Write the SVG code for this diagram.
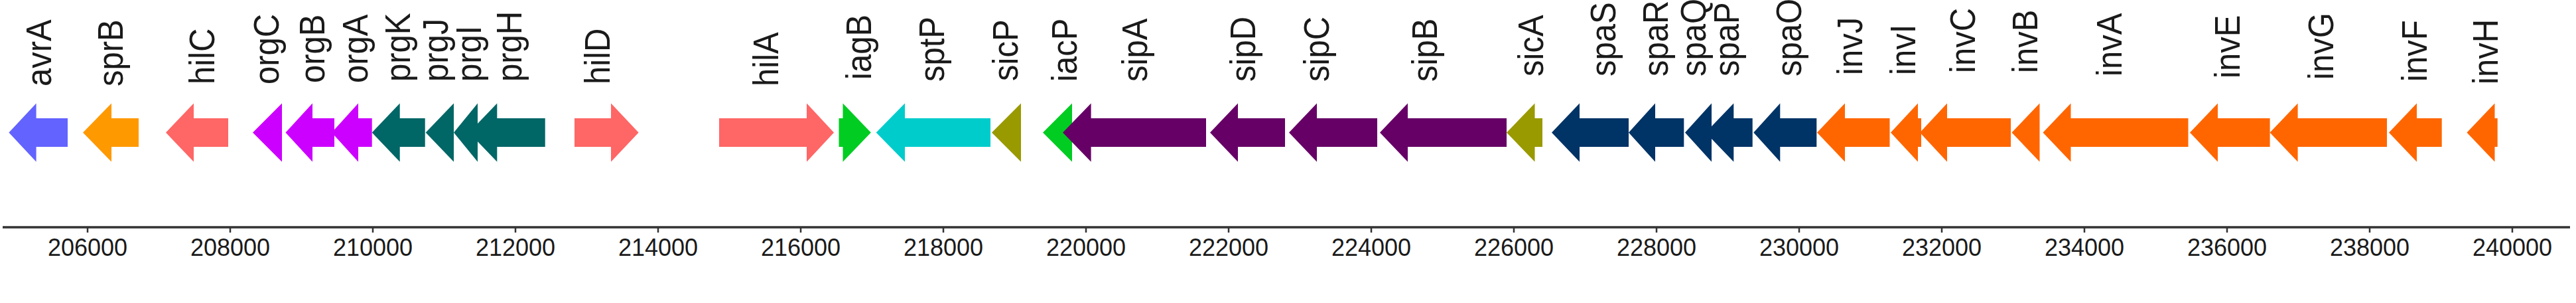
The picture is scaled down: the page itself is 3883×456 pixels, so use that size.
<svg xmlns="http://www.w3.org/2000/svg" width="3883" height="456" viewBox="0 0 3883 456">
<style>
.lbl{font-family:"Liberation Sans",Arial,sans-serif;font-size:49px;fill:#1a1a1a;dominant-baseline:central}
.tl{font-family:"Liberation Sans",Arial,sans-serif;font-size:36px;fill:#1a1a1a;text-anchor:middle}
.ax{stroke:#333;stroke-width:3.5;fill:none}
.tk{stroke:#333;stroke-width:2.5}
.c1{fill:#6363FF}.c2{fill:#FF9900}.c3{fill:#FF6666}.c4{fill:#CC00FF}.c5{fill:#006666}
.c6{fill:#00CC22}.c7{fill:#00CCCC}.c8{fill:#999900}.c9{fill:#660066}.c10{fill:#003366}.c11{fill:#FF6600}
</style>
<rect width="3883" height="456" fill="#fff"/>
<g id="axis">
<line class="ax" x1="4" y1="342" x2="3874" y2="342"/>
<g class="tk">
<line x1="132" y1="342" x2="132" y2="350"/><line x1="347" y1="342" x2="347" y2="350"/><line x1="562" y1="342" x2="562" y2="350"/><line x1="777" y1="342" x2="777" y2="350"/><line x1="992" y1="342" x2="992" y2="350"/><line x1="1207" y1="342" x2="1207" y2="350"/><line x1="1422" y1="342" x2="1422" y2="350"/><line x1="1637" y1="342" x2="1637" y2="350"/><line x1="1852" y1="342" x2="1852" y2="350"/><line x1="2067" y1="342" x2="2067" y2="350"/><line x1="2282" y1="342" x2="2282" y2="350"/><line x1="2497" y1="342" x2="2497" y2="350"/><line x1="2712" y1="342" x2="2712" y2="350"/><line x1="2927" y1="342" x2="2927" y2="350"/><line x1="3142" y1="342" x2="3142" y2="350"/><line x1="3357" y1="342" x2="3357" y2="350"/><line x1="3572" y1="342" x2="3572" y2="350"/><line x1="3787" y1="342" x2="3787" y2="350"/>
</g>
<g class="tl">
<text x="132" y="385">206000</text><text x="347" y="385">208000</text><text x="562" y="385">210000</text><text x="777" y="385">212000</text><text x="992" y="385">214000</text><text x="1207" y="385">216000</text><text x="1422" y="385">218000</text><text x="1637" y="385">220000</text><text x="1852" y="385">222000</text><text x="2067" y="385">224000</text><text x="2282" y="385">226000</text><text x="2497" y="385">228000</text><text x="2712" y="385">230000</text><text x="2927" y="385">232000</text><text x="3142" y="385">234000</text><text x="3357" y="385">236000</text><text x="3572" y="385">238000</text><text x="3787" y="385">240000</text>
</g>
</g>
<g id="genes">
<g id="avrA"><polygon class="c1" points="13.4,199.5 54.6,155.5 54.6,178 102,178 102,221 54.6,221 54.6,243.5"/><text class="lbl" transform="translate(59,130) rotate(-90) scale(1,1.09)">avrA</text></g>
<g id="sprB"><polygon class="c2" points="125,199.5 168,155.5 168,178 209,178 209,221 168,221 168,243.5"/><text class="lbl" transform="translate(167,130) rotate(-90) scale(1,1.09)">sprB</text></g>
<g id="hilC"><polygon class="c3" points="250,199.5 292,155.5 292,178 344,178 344,221 292,221 292,243.5"/><text class="lbl" transform="translate(305,127) rotate(-90) scale(1,1.09)">hilC</text></g>
<g id="orgC"><polygon class="c4" points="381,199.5 425,155.5 425,243.5"/><text class="lbl" transform="translate(402,127) rotate(-90) scale(1,1.09)">orgC</text></g>
<g id="orgA"><polygon class="c4" points="500,199.5 540,155.5 540,178 560.7,178 560.7,221 540,221 540,243.5"/><text class="lbl" transform="translate(536,125) rotate(-90) scale(1,1.09)">orgA</text></g>
<g id="orgB"><polygon class="c4" points="430.5,199.5 471,155.5 471,178 504,178 504,221 471,221 471,243.5"/><text class="lbl" transform="translate(471,125) rotate(-90) scale(1,1.09)">orgB</text></g>
<g id="prgK"><polygon class="c5" points="560.7,199.5 602.7,155.5 602.7,178 640.7,178 640.7,221 602.7,221 602.7,243.5"/><text class="lbl" transform="translate(600,123) rotate(-90) scale(1,1.09)">prgK</text></g>
<g id="prgH"><polygon class="c5" points="707,199.5 749.3,155.5 749.3,178 821.7,178 821.7,221 749.3,221 749.3,243.5"/><text class="lbl" transform="translate(768,123) rotate(-90) scale(1,1.09)">prgH</text></g>
<g id="prgI"><polygon class="c5" points="684,199.5 720,155.5 720,243.5"/><text class="lbl" transform="translate(707,123) rotate(-90) scale(1,1.09)">prgI</text></g>
<g id="prgJ"><polygon class="c5" points="641.7,199.5 684,155.5 684,243.5"/><text class="lbl" transform="translate(657,123) rotate(-90) scale(1,1.09)">prgJ</text></g>
<g id="hilD"><polygon class="c3" points="866,178 921,178 921,155.5 962.6,199.5 921,243.5 921,221 866,221"/><text class="lbl" transform="translate(901,127) rotate(-90) scale(1,1.09)">hilD</text></g>
<g id="hilA"><polygon class="c3" points="1084,178 1216,178 1216,155.5 1257,199.5 1216,243.5 1216,221 1084,221"/><text class="lbl" transform="translate(1155,130) rotate(-90) scale(1,1.09)">hilA</text></g>
<g id="iagB"><polygon class="c6" points="1264.5,178 1270.5,178 1270.5,155.5 1312.8,199.5 1270.5,243.5 1270.5,221 1264.5,221"/><text class="lbl" transform="translate(1295,120) rotate(-90) scale(1,1.09)">iagB</text></g>
<g id="sptP"><polygon class="c7" points="1320.7,199.5 1364,155.5 1364,178 1493,178 1493,221 1364,221 1364,243.5"/><text class="lbl" transform="translate(1405,123) rotate(-90) scale(1,1.09)">sptP</text></g>
<g id="sicP"><polygon class="c8" points="1495,199.5 1539,155.5 1539,243.5"/><text class="lbl" transform="translate(1516,122) rotate(-90) scale(1,1.09)">sicP</text></g>
<g id="iacP"><polygon class="c6" points="1572,199.5 1616,155.5 1616,243.5"/><text class="lbl" transform="translate(1605,123) rotate(-90) scale(1,1.09)">iacP</text></g>
<g id="sipA"><polygon class="c9" points="1602,199.5 1644.6,155.5 1644.6,178 1818,178 1818,221 1644.6,221 1644.6,243.5"/><text class="lbl" transform="translate(1711,123) rotate(-90) scale(1,1.09)">sipA</text></g>
<g id="sipD"><polygon class="c9" points="1824,199.5 1866,155.5 1866,178 1937,178 1937,221 1866,221 1866,243.5"/><text class="lbl" transform="translate(1874,123) rotate(-90) scale(1,1.09)">sipD</text></g>
<g id="sipC"><polygon class="c9" points="1943,199.5 1985,155.5 1985,178 2076,178 2076,221 1985,221 1985,243.5"/><text class="lbl" transform="translate(1985,123) rotate(-90) scale(1,1.09)">sipC</text></g>
<g id="sipB"><polygon class="c9" points="2080,199.5 2122,155.5 2122,178 2271,178 2271,221 2122,221 2122,243.5"/><text class="lbl" transform="translate(2148,123) rotate(-90) scale(1,1.09)">sipB</text></g>
<g id="sicA"><polygon class="c8" points="2271,199.5 2313.5,155.5 2313.5,178 2325,178 2325,221 2313.5,221 2313.5,243.5"/><text class="lbl" transform="translate(2308,115) rotate(-90) scale(1,1.09)">sicA</text></g>
<g id="spaS"><polygon class="c10" points="2339,199.5 2381,155.5 2381,178 2455,178 2455,221 2381,221 2381,243.5"/><text class="lbl" transform="translate(2417,115) rotate(-90) scale(1,1.09)">spaS</text></g>
<g id="spaR"><polygon class="c10" points="2455,199.5 2495,155.5 2495,178 2538.3,178 2538.3,221 2495,221 2495,243.5"/><text class="lbl" transform="translate(2496,115) rotate(-90) scale(1,1.09)">spaR</text></g>
<g id="spaP"><polygon class="c10" points="2571,199.5 2613.3,155.5 2613.3,178 2641.7,178 2641.7,221 2613.3,221 2613.3,243.5"/><text class="lbl" transform="translate(2603,115) rotate(-90) scale(1,1.09)">spaP</text></g>
<g id="spaQ"><polygon class="c10" points="2540,199.5 2580,155.5 2580,243.5"/><text class="lbl" transform="translate(2553,115) rotate(-90) scale(1,1.09)">spaQ</text></g>
<g id="spaO"><polygon class="c10" points="2643.3,199.5 2683.3,155.5 2683.3,178 2738.3,178 2738.3,221 2683.3,221 2683.3,243.5"/><text class="lbl" transform="translate(2697,115) rotate(-90) scale(1,1.09)">spaO</text></g>
<g id="invJ"><polygon class="c11" points="2739,199.5 2781,155.5 2781,178 2848.5,178 2848.5,221 2781,221 2781,243.5"/><text class="lbl" transform="translate(2789,113) rotate(-90) scale(1,1.09)">invJ</text></g>
<g id="invC"><polygon class="c11" points="2894,199.5 2935,155.5 2935,178 3031,178 3031,221 2935,221 2935,243.5"/><text class="lbl" transform="translate(2959,110) rotate(-90) scale(1,1.09)">invC</text></g>
<g id="invI"><polygon class="c11" points="2850,199.5 2891,155.5 2891,178 2896,178 2896,221 2891,221 2891,243.5"/><text class="lbl" transform="translate(2869,113) rotate(-90) scale(1,1.09)">invI</text></g>
<g id="invB"><polygon class="c11" points="3032.5,199.5 3074.5,155.5 3074.5,243.5"/><text class="lbl" transform="translate(3053,110) rotate(-90) scale(1,1.09)">invB</text></g>
<g id="invA"><polygon class="c11" points="3079.5,199.5 3121.5,155.5 3121.5,178 3298.5,178 3298.5,221 3121.5,221 3121.5,243.5"/><text class="lbl" transform="translate(3180,115) rotate(-90) scale(1,1.09)">invA</text></g>
<g id="invE"><polygon class="c11" points="3301,199.5 3343,155.5 3343,178 3421.6,178 3421.6,221 3343,221 3343,243.5"/><text class="lbl" transform="translate(3358,118) rotate(-90) scale(1,1.09)">invE</text></g>
<g id="invG"><polygon class="c11" points="3421.6,199.5 3463.6,155.5 3463.6,178 3598,178 3598,221 3463.6,221 3463.6,243.5"/><text class="lbl" transform="translate(3499,120) rotate(-90) scale(1,1.09)">invG</text></g>
<g id="invF"><polygon class="c11" points="3601,199.5 3643,155.5 3643,178 3680.7,178 3680.7,221 3643,221 3643,243.5"/><text class="lbl" transform="translate(3640,123) rotate(-90) scale(1,1.09)">invF</text></g>
<g id="invH"><polygon class="c11" points="3718.5,199.5 3760.5,155.5 3760.5,178 3764.7,178 3764.7,221 3760.5,221 3760.5,243.5"/><text class="lbl" transform="translate(3747,127) rotate(-90) scale(1,1.09)">invH</text></g>
</g>
</svg>
